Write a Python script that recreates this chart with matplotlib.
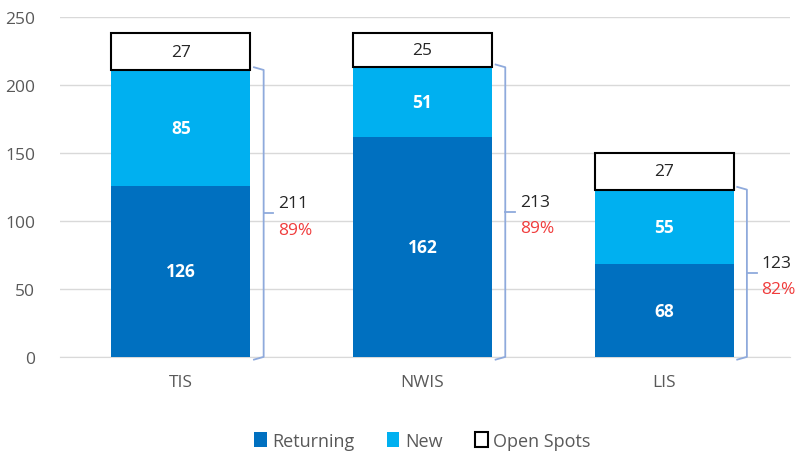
import matplotlib
matplotlib.use("Agg")
import matplotlib.pyplot as plt
from matplotlib.patches import Patch

categories = ["TIS", "NWIS", "LIS"]
returning = [126, 162, 68]
new = [85, 51, 55]
open_spots = [27, 25, 27]
totals = [211, 213, 123]
pcts = ["89%", "89%", "82%"]

plt.rcParams['font.family'] = ['Open Sans', 'DejaVu Sans']

fig = plt.figure(figsize=(8.01, 4.60), dpi=100)
ax = fig.add_axes([0.075, 0.222, 0.911, 0.739])

c_ret = "#0070C0"
c_new = "#00B0F0"
x = list(range(len(categories)))
w = 0.575

ax.bar(x, returning, w, color=c_ret, zorder=3)
ax.bar(x, new, w, bottom=returning, color=c_new, zorder=3)
bot2 = [r + n for r, n in zip(returning, new)]
ax.bar(x, open_spots, w, bottom=bot2, color="white", edgecolor="black", linewidth=1.5, zorder=3)

for i in x:
    ax.text(i, returning[i] / 2, str(returning[i]), ha="center", va="center",
            color="white", fontsize=12.5, fontweight="bold", zorder=4)
    ax.text(i, returning[i] + new[i] / 2, str(new[i]), ha="center", va="center",
            color="white", fontsize=12.5, fontweight="bold", zorder=4)
    ax.text(i, bot2[i] + open_spots[i] / 2, str(open_spots[i]), ha="center", va="center",
            color="#262626", fontsize=12.5, zorder=4)

# brackets
bc = "#8FAADC"
for i in x:
    bx = i + w / 2 + 0.055
    t = totals[i]
    ax.plot([bx - 0.04, bx, bx, bx - 0.04], [-2, 0, t, t + 2], color=bc, lw=1.3, zorder=4,
            clip_on=False)
    ax.plot([bx, bx + 0.04], [t / 2, t / 2], color=bc, lw=1.3, zorder=4)
    ax.text(bx + 0.06, t / 2 + 1.5, str(t), ha="left", va="bottom", color="#262626", fontsize=12.5)
    ax.text(bx + 0.06, t / 2 - 6, pcts[i], ha="left", va="top", color="#F03C3C", fontsize=12.5)

ax.set_xlim(-0.5, 2.52)
ax.set_ylim(0, 250)
ax.set_yticks([0, 50, 100, 150, 200, 250])
ax.set_xticks(x)
ax.set_xticklabels(categories)
ax.tick_params(axis="both", length=0, labelsize=12.5, colors="#595959")
ax.tick_params(axis="x", pad=12)
ax.tick_params(axis="y", pad=18)
ax.yaxis.grid(True, color="#D9D9D9", lw=1, zorder=0)
for s in ["top", "right", "left"]:
    ax.spines[s].set_visible(False)
ax.spines["bottom"].set_color("#D9D9D9")

handles = [Patch(facecolor=c_ret, label="Returning"),
           Patch(facecolor=c_new, label="New"),
           Patch(facecolor="white", edgecolor="black", linewidth=1.5, label="Open Spots")]
leg = fig.legend(handles=handles, loc="center", bbox_to_anchor=(0.527, 0.04), ncol=3,
                 frameon=False, fontsize=13, handlelength=0.7, handleheight=0.9,
                 handletextpad=0.3, columnspacing=1.8)
for t in leg.get_texts():
    t.set_color("#595959")

fig.savefig("out.png", dpi=100)
